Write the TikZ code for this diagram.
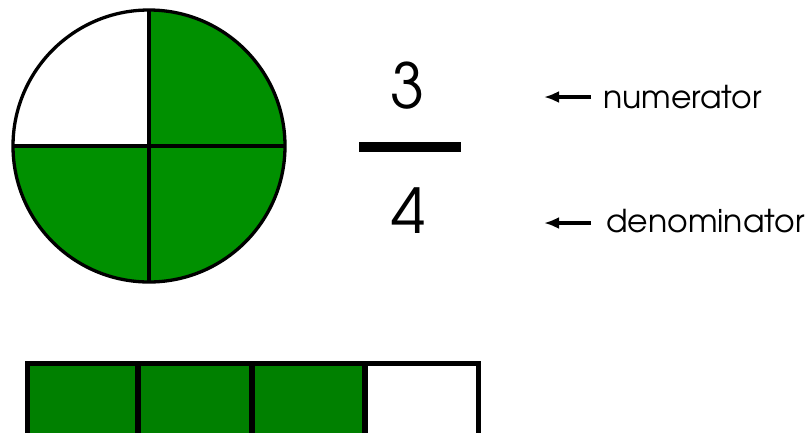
\documentclass[tikz,border=0pt]{standalone}
\usepackage{fontspec}
\setmainfont{TeX Gyre Adventor}
\usetikzlibrary{arrows.meta}
\definecolor{piegreen}{HTML}{009000}
\definecolor{bargreen}{HTML}{008000}
\tikzset{
  digit/.style={inner sep=0pt, font=\fontsize{62}{62}\selectfont},
  label/.style={inner sep=0pt, anchor=base west, font=\fontsize{31.5}{31.5}\selectfont},
  pointer/.style={line width=3.5pt, -{Latex[length=15pt,width=12pt]}},
  cellbox/.style={draw=black, line width=5.5pt},
}
\begin{document}
\begin{tikzpicture}[x=1pt,y=-1pt]
\useasboundingbox (0,0) rectangle (811,432);
\clip (0,0) rectangle (811,432);

% circle split into quarters, three of them shaded
\node[circle, minimum size=272pt, inner sep=0pt, fill=piegreen] (pie) at (149,146) {};
\fill[white] (pie.center) -- (pie.west) arc[start angle=180, end angle=270, radius=136] -- cycle;
\draw[line width=3.3pt] (pie.center) circle (136);
\draw[line width=3.3pt] (pie.north) -- (pie.south);
\draw[line width=3.3pt] (pie.west) -- (pie.east);

% the fraction
\node[digit] (num) at (408,85.5) {3};
\node[fill=black, inner sep=0pt, minimum width=102pt, minimum height=10pt] (rule) at (410,147) {};
\node[digit] (den) at (409,210.5) {4};

% labels with arrows
\node[label] (numlbl) at (603,108) {numerator};
\node[label] (denlbl) at (606,232) {denominator};
\coordinate (na) at (591,97);
\coordinate (nb) at (544,97);
\coordinate (da) at (591,223);
\coordinate (db) at (544,223);
\draw[pointer] (na) -- (nb);
\draw[pointer] (da) -- (db);

% bar split into four parts
\filldraw[cellbox, fill=bargreen] (27.5,363.5) rectangle (138,470);
\filldraw[cellbox, fill=bargreen] (138,363.5) rectangle (252,470);
\filldraw[cellbox, fill=bargreen] (252,363.5) rectangle (365,470);
\filldraw[cellbox, fill=white] (365,363.5) rectangle (478.5,470);
\end{tikzpicture}
\end{document}
